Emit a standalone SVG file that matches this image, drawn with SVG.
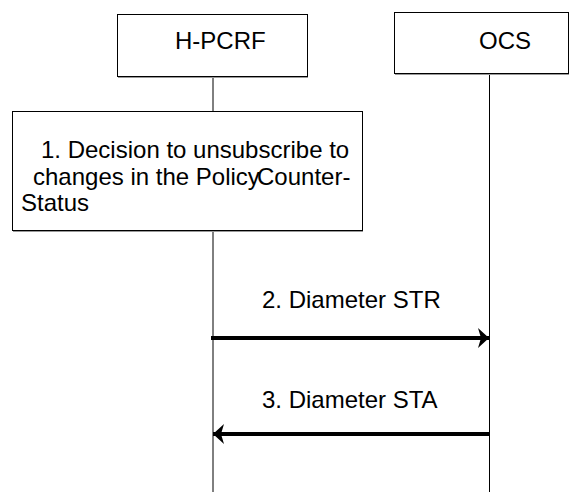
<svg xmlns="http://www.w3.org/2000/svg" width="573" height="492" viewBox="0 0 573 492">
<style>
.box{fill:#fff;stroke:#000;stroke-width:1}
.shadow{stroke:#999;stroke-width:1;fill:none}
.life{stroke:#000;stroke-width:1;fill:none}
.msg{stroke:#000;stroke-width:4;fill:none}
text{font-family:"Liberation Sans",Arial,sans-serif;font-size:24px;fill:#000}
</style>
<defs>
<marker id="ah" markerUnits="userSpaceOnUse" markerWidth="14" markerHeight="24" refX="11" refY="12" orient="auto">
<path d="M0,2 L11,12 L0,22 L3,12 Z" fill="#000"/>
</marker>
</defs>
<rect width="573" height="492" fill="#fff"/>
<g id="connectors">
<line class="life" x1="213" y1="77" x2="213" y2="111"/>
<line class="life" x1="213" y1="231" x2="213" y2="492"/>
<line class="life" x1="489.5" y1="74" x2="489.5" y2="492"/>
<line class="msg" x1="211" y1="338" x2="489" y2="338" marker-end="url(#ah)"/>
<line class="msg" x1="490" y1="434" x2="213" y2="434" marker-end="url(#ah)"/>
</g>
<g id="hpcrf">
<rect class="box" x="117.5" y="14.5" width="190" height="62"/>
<line class="shadow" x1="118" y1="77.5" x2="308" y2="77.5"/>
<text x="175" y="49">H-PCRF</text>
</g>
<g id="ocs">
<rect class="box" x="394.5" y="12.5" width="174" height="61"/>
<line class="shadow" x1="395" y1="74.5" x2="569" y2="74.5"/>
<text x="479" y="49">OCS</text>
</g>
<g id="decision">
<rect class="box" x="12.5" y="111.5" width="350" height="119"/>
<line class="shadow" x1="13" y1="231.5" x2="363" y2="231.5"/>
<text x="41" y="158">1. Decision to unsubscribe to</text>
<text x="33" y="185">changes in the Policy</text>
<text x="257" y="185">Counter-</text>
<text x="21" y="211">Status</text>
</g>
<g id="labels">
<text x="262" y="308">2. Diameter STR</text>
<text x="262" y="408">3. Diameter STA</text>
</g>
</svg>
